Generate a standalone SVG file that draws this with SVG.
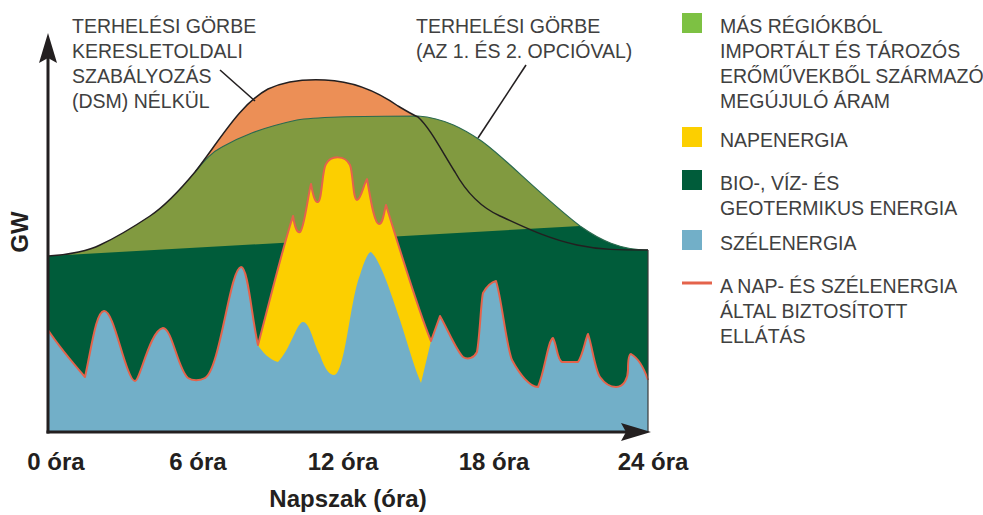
<svg xmlns="http://www.w3.org/2000/svg" width="983" height="515" viewBox="0 0 983 515">
<style>
.lbl{font-family:"Liberation Sans",Arial,sans-serif;font-size:19.5px;fill:#404040}
.ax{font-family:"Liberation Sans",Arial,sans-serif;font-size:24px;font-weight:bold;fill:#231f20}
.axis{stroke:#231f20;stroke-width:3;fill:none}
.head{fill:#231f20}
.lead{stroke:#231f20;stroke-width:1.6;fill:none}
</style>
<rect width="983" height="515" fill="#ffffff"/>
<g id="chart-areas">
  <path id="area-orange" fill="#ec8f56" d="M195,172 C220,140 240,104 268,89 C285,81 305,79 325,80 C352,81 378,92 398,106 C408,112 413,115 418,117 L418,200 L195,200 Z"/>
  <path id="area-import" fill="#819a40" d="M48,256 C70,255 90,250 100,245 C115,238 135,226 150,216 C165,206 180,190 195,172 C205,160 212,152 222,147 C240,137 260,128 297,120 C320,116 380,116 418,116 C445,118 465,130 480,140 C500,153 540,195 580,226 C600,240 620,250 648,250 L648,432 L48,432 Z"/>
  <path id="area-bio" fill="#005c3a" d="M48,256 L580,226 C600,240 620,250 648,250 L648,432 L48,432 Z"/>
  <path id="area-solar" fill="#fccf00" d="M258,345 C270,300 282,250 293,216 C295,228 297,233 300,232 C304,230 308,195 311,184 C313,195 315,203 318,202 C322,201 322,170 326,164 C331,155 345,155 350,165 C353,172 353,200 357,200 C361,200 364,183 367,179 C370,195 374,224 379,224 C383,224 384,212 386,205 C400,250 418,310 431,341 L431,400 L258,400 Z"/>
  <path id="area-wind" fill="#72afc8" d="M48,432 L48,330 C60,348 72,362 85,377 C92,345 96,312 104,311 C112,310 120,350 128,370 C131,378 133,381 135,381 C140,381 150,330 163,328 C172,328 178,370 188,378 C192,381 200,381 205,378 C220,370 230,268 241,267 C248,266 252,320 258,345 C262,352 270,360 278,362 C290,350 297,322 303,322 C310,322 314,345 320,355 C325,370 330,375 334,375 C345,375 350,300 360,275 C364,262 368,252 371,252 C380,260 390,290 400,320 C408,345 415,370 421,383 L431,341 L440,316 C448,330 456,350 463,357 C468,360 474,358 477,352 C480,335 481,300 483,293 C487,286 492,282 496,281 C502,300 506,345 512,360 C520,375 530,387 538,387 C545,370 548,340 553,338 C557,345 557,360 562,362 L578,362 C583,355 585,340 588,334 C592,345 595,370 600,377 C605,384 610,387 616,387 C624,387 628,378 628,370 C628,360 629,354 631,354 C638,358 644,368 648,380 L648,432 Z"/>
</g>
<g id="connectors">
  <path id="supply-line" fill="none" stroke="#e4634b" stroke-width="2" stroke-linejoin="round" d="M48,330 C60,348 72,362 85,377 C92,345 96,312 104,311 C112,310 120,350 128,370 C131,378 133,381 135,381 C140,381 150,330 163,328 C172,328 178,370 188,378 C192,381 200,381 205,378 C220,370 230,268 241,267 C248,266 252,320 258,345 C270,300 282,250 293,216 C295,228 297,233 300,232 C304,230 308,195 311,184 C313,195 315,203 318,202 C322,201 322,170 326,164 C331,155 345,155 350,165 C353,172 353,200 357,200 C361,200 364,183 367,179 C370,195 374,224 379,224 C383,224 384,212 386,205 C400,250 418,310 431,341 L440,316 C448,330 456,350 463,357 C468,360 474,358 477,352 C480,335 481,300 483,293 C487,286 492,282 496,281 C502,300 506,345 512,360 C520,375 530,387 538,387 C545,370 548,340 553,338 C557,345 557,360 562,362 L578,362 C583,355 585,340 588,334 C592,345 595,370 600,377 C605,384 610,387 616,387 C624,387 628,378 628,370 C628,360 629,354 631,354 C638,358 644,368 648,380"/>
  <path id="curve-options" fill="none" stroke="#2b6a50" stroke-width="1.2" d="M195,172 C205,160 212,152 222,147 C240,137 260,128 297,120 C320,116 380,116 418,116 C445,118 465,130 480,140 C500,153 540,195 580,226 C600,240 620,250 648,250"/>
  <path id="curve-dsm" fill="none" stroke="#231f20" stroke-width="1.5" d="M48,256 C70,255 90,250 100,245 C115,238 135,226 150,216 C165,206 180,190 195,172 C220,140 240,104 268,89 C285,81 305,79 325,80 C352,81 378,92 398,106 C408,112 413,115 418,117 C430,128 440,148 455,172 C465,190 480,207 500,216 C520,225 545,238 577,245 C600,250 620,250 648,250"/>
  <line x1="648" y1="250" x2="648" y2="432" stroke="#3a3a3a" stroke-width="1.2"/>
  <line class="lead" x1="220" y1="70" x2="255" y2="101"/>
  <line class="lead" x1="526" y1="65" x2="478" y2="138"/>
  <line class="axis" x1="48" y1="433.5" x2="48" y2="55"/>
  <path class="head" d="M48,33 L57,63 L48,58 L39,63 Z"/>
  <line class="axis" x1="46.5" y1="432" x2="628" y2="432"/>
  <path class="head" d="M651,432 L621,441 L626,432 L621,423 Z"/>
</g>
<g id="label-dsm">
  <text class="lbl" x="72" y="33">TERHELÉSI GÖRBE</text>
  <text class="lbl" x="72" y="58">KERESLETOLDALI</text>
  <text class="lbl" x="72" y="83">SZABÁLYOZÁS</text>
  <text class="lbl" x="72" y="108">(DSM) NÉLKÜL</text>
</g>
<g id="label-options">
  <text class="lbl" x="416" y="33">TERHELÉSI GÖRBE</text>
  <text class="lbl" x="416" y="58">(AZ 1. ÉS 2. OPCIÓVAL)</text>
</g>
<g id="axis-labels">
  <text class="ax" transform="translate(28,232) rotate(-90)" text-anchor="middle">GW</text>
  <text class="ax" x="56" y="470" text-anchor="middle">0 óra</text>
  <text class="ax" x="198" y="470" text-anchor="middle">6 óra</text>
  <text class="ax" x="343" y="470" text-anchor="middle">12 óra</text>
  <text class="ax" x="494" y="470" text-anchor="middle">18 óra</text>
  <text class="ax" x="653" y="470" text-anchor="middle">24 óra</text>
  <text class="ax" x="348" y="507" text-anchor="middle">Napszak (óra)</text>
</g>
<g id="legend-import">
  <rect x="682" y="13" width="20" height="20" fill="#7dc143"/>
  <text class="lbl" x="720" y="33">MÁS RÉGIÓKBÓL</text>
  <text class="lbl" x="720" y="58">IMPORTÁLT ÉS TÁROZÓS</text>
  <text class="lbl" x="720" y="83">ERŐMŰVEKBŐL SZÁRMAZÓ</text>
  <text class="lbl" x="720" y="108">MEGÚJULÓ ÁRAM</text>
</g>
<g id="legend-solar">
  <rect x="682" y="127" width="20" height="20" fill="#fccf00"/>
  <text class="lbl" x="720" y="147">NAPENERGIA</text>
</g>
<g id="legend-bio">
  <rect x="682" y="170" width="20" height="20" fill="#005c3a"/>
  <text class="lbl" x="720" y="190">BIO-, VÍZ- ÉS</text>
  <text class="lbl" x="720" y="215">GEOTERMIKUS ENERGIA</text>
</g>
<g id="legend-wind">
  <rect x="682" y="230" width="20" height="20" fill="#72afc8"/>
  <text class="lbl" x="720" y="250">SZÉLENERGIA</text>
</g>
<g id="legend-supply">
  <line x1="682" y1="283" x2="712" y2="283" stroke="#e4634b" stroke-width="3"/>
  <text class="lbl" x="720" y="293">A NAP- ÉS SZÉLENERGIA</text>
  <text class="lbl" x="720" y="318">ÁLTAL BIZTOSÍTOTT</text>
  <text class="lbl" x="720" y="343">ELLÁTÁS</text>
</g>
</svg>
